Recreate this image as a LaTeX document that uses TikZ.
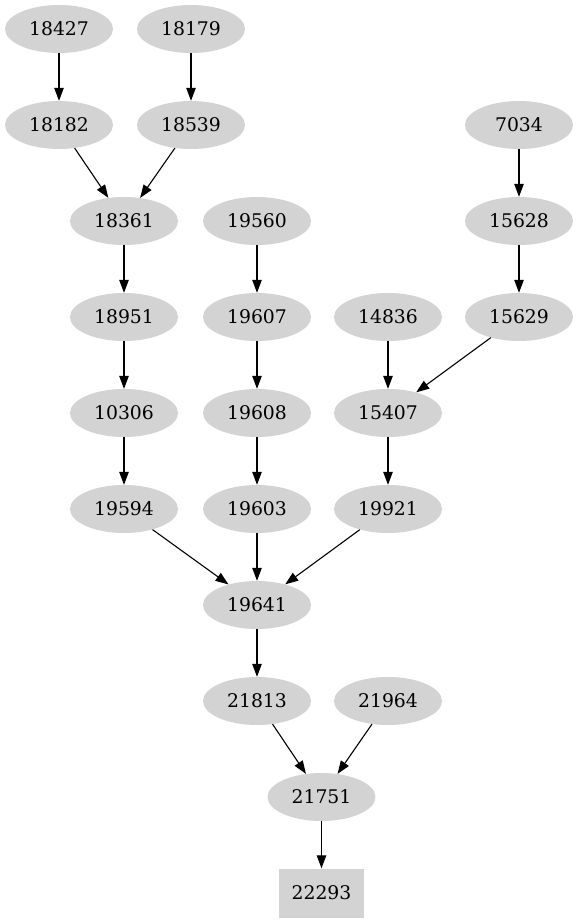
\documentclass[tikz,border=0pt]{standalone}
\usepackage{fontspec}
\setmainfont{DejaVu Serif}
\usetikzlibrary{shapes.geometric,arrows.meta}
\definecolor{gvgray}{HTML}{D3D3D3}
\tikzset{
  gnode/.style={ellipse,fill=gvgray,draw=none,minimum width=108pt,minimum height=48pt,inner sep=0pt,font=\fontsize{18.8}{22}\selectfont},
  gbox/.style={rectangle,fill=gvgray,draw=none,minimum width=85pt,minimum height=49pt,inner sep=0pt,font=\fontsize{18.8}{22}\selectfont},
  gedge/.style={draw=black,line width=1.1pt,-{Triangle[length=13pt,width=9.5pt]}}
}
\begin{document}
\begin{tikzpicture}[x=1pt,y=-1pt]
\useasboundingbox (0,0) rectangle (579,923);
\node[gnode] (n18427) at (59,29) {18427};
\node[gnode] (n18179) at (191,29) {18179};
\node[gnode] (n18182) at (59,125) {18182};
\node[gnode] (n18539) at (191,125) {18539};
\node[gnode] (n7034) at (519,125) {7034};
\node[gnode] (n18361) at (124,221) {18361};
\node[gnode] (n19560) at (257,221) {19560};
\node[gnode] (n15628) at (519,221) {15628};
\node[gnode] (n18951) at (124,317) {18951};
\node[gnode] (n19607) at (257,317) {19607};
\node[gnode] (n14836) at (388,317) {14836};
\node[gnode] (n15629) at (519,317) {15629};
\node[gnode] (n10306) at (124,413) {10306};
\node[gnode] (n19608) at (257,413) {19608};
\node[gnode] (n15407) at (388,413) {15407};
\node[gnode] (n19594) at (124,509) {19594};
\node[gnode] (n19603) at (257,509) {19603};
\node[gnode] (n19921) at (388,509) {19921};
\node[gnode] (n19641) at (257,605) {19641};
\node[gnode] (n21813) at (257,701) {21813};
\node[gnode] (n21964) at (388,701) {21964};
\node[gnode] (n21751) at (321.5,797) {21751};
\node[gbox] (n22293) at (321.5,893) {22293};
\draw[gedge] (n18427) -- (n18182);
\draw[gedge] (n18179) -- (n18539);
\draw[gedge] (n18182) -- (n18361);
\draw[gedge] (n18539) -- (n18361);
\draw[gedge] (n7034) -- (n15628);
\draw[gedge] (n18361) -- (n18951);
\draw[gedge] (n19560) -- (n19607);
\draw[gedge] (n15628) -- (n15629);
\draw[gedge] (n18951) -- (n10306);
\draw[gedge] (n19607) -- (n19608);
\draw[gedge] (n14836) -- (n15407);
\draw[gedge] (n15629) -- (n15407);
\draw[gedge] (n10306) -- (n19594);
\draw[gedge] (n19608) -- (n19603);
\draw[gedge] (n15407) -- (n19921);
\draw[gedge] (n19594) -- (n19641);
\draw[gedge] (n19603) -- (n19641);
\draw[gedge] (n19921) -- (n19641);
\draw[gedge] (n19641) -- (n21813);
\draw[gedge] (n21813) -- (n21751);
\draw[gedge] (n21964) -- (n21751);
\draw[gedge] (n21751) -- (n22293);
\end{tikzpicture}
\end{document}
